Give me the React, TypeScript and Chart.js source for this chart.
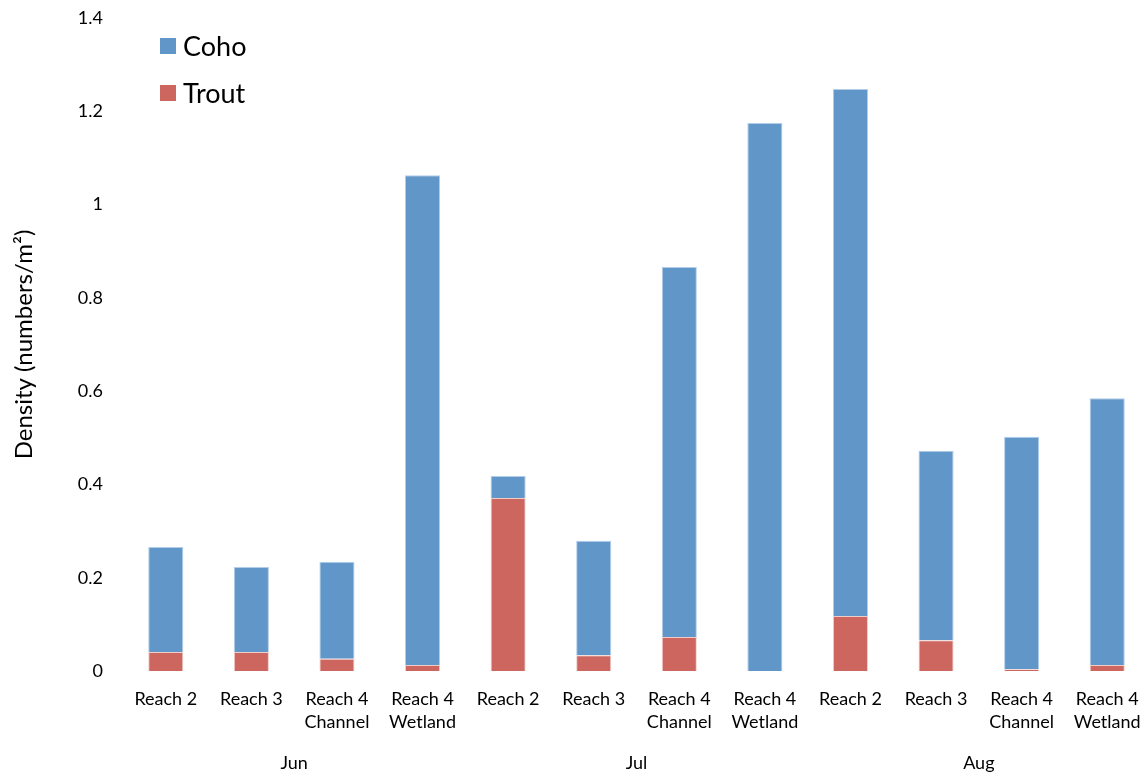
import React, { useEffect, useRef } from 'react';
import { Chart, registerables } from 'chart.js';

Chart.register(...registerables);

const categories: string[][] = [
  ['Reach 2'], ['Reach 3'], ['Reach 4', 'Channel'], ['Reach 4', 'Wetland'],
  ['Reach 2'], ['Reach 3'], ['Reach 4', 'Channel'], ['Reach 4', 'Wetland'],
  ['Reach 2'], ['Reach 3'], ['Reach 4', 'Channel'], ['Reach 4', 'Wetland'],
];
const months = ['Jun', 'Jul', 'Aug'];
const trout = [0.041, 0.041, 0.026, 0.013, 0.371, 0.034, 0.073, 0.0, 0.118, 0.066, 0.004, 0.013];
const coho = [0.225, 0.182, 0.208, 1.05, 0.047, 0.245, 0.793, 1.175, 1.13, 0.406, 0.498, 0.572];
const yMin = 0;
const yMax = 1.4;
const yStep = 0.2;

const FONT = 'Lato, "Open Sans", "DejaVu Sans", sans-serif';
const BLUE = '#6096C8';
const RED = '#CD665F';

export default function App() {
  const ref = useRef<HTMLCanvasElement | null>(null);

  useEffect(() => {
    document.documentElement.style.overflow = 'hidden';
    document.body.style.overflow = 'hidden';
    document.body.style.margin = '0';
    if (!ref.current) return;

    const groupPlugin = {
      id: 'groupLabels',
      afterDraw(chart: any) {
        const ctx = chart.ctx;
        const xs = chart.scales.x;
        ctx.save();
        ctx.font = `18px ${FONT}`;
        ctx.fillStyle = '#000';
        ctx.textAlign = 'center';
        ctx.textBaseline = 'middle';
        months.forEach((m, i) => {
          const a = xs.getPixelForValue(i * 4);
          const b = xs.getPixelForValue(i * 4 + 3);
          ctx.fillText(m, (a + b) / 2, 763);
        });
        ctx.restore();
      },
    };

    const legendPlugin = {
      id: 'customLegend',
      afterDraw(chart: any) {
        const ctx = chart.ctx;
        const items = [chart.data.datasets[1], chart.data.datasets[0]];
        ctx.save();
        ctx.font = `27px ${FONT}`;
        ctx.textBaseline = 'middle';
        ctx.textAlign = 'left';
        items.forEach((ds: any, i: number) => {
          const cy = 46 + i * 47;
          ctx.fillStyle = ds.backgroundColor;
          ctx.fillRect(160, cy - 8, 16, 16);
          ctx.fillStyle = '#000';
          ctx.fillText(ds.label, 183, cy + 1);
        });
        ctx.restore();
      },
    };

    const chart = new Chart(ref.current, {
      type: 'bar',
      data: {
        labels: categories,
        datasets: [
          {
            label: 'Trout',
            data: trout,
            backgroundColor: RED,
            borderColor: 'rgba(240,200,196,0.9)',
            borderWidth: 1,
            barPercentage: 0.41,
            categoryPercentage: 1,
          },
          {
            label: 'Coho',
            data: coho,
            backgroundColor: BLUE,
            borderColor: 'rgba(170,200,230,0.9)',
            borderWidth: 1,
            barPercentage: 0.41,
            categoryPercentage: 1,
          },
        ],
      },
      options: {
        responsive: false,
        animation: false,
        layout: { padding: { top: 18, right: 0, bottom: 0, left: 0 } },
        plugins: {
          legend: { display: false },
          tooltip: { enabled: false },
        },
        scales: {
          x: {
            stacked: true,
            grid: { display: false },
            border: { display: false },
            ticks: {
              color: '#000',
              font: { family: FONT, size: 18, lineHeight: 1.3 },
              padding: 8,
              maxRotation: 0,
              autoSkip: false,
            },
            afterFit: (s: any) => { s.height = 107; s.paddingLeft = 0; s.paddingRight = 0; },
          },
          y: {
            stacked: true,
            min: yMin,
            max: yMax,
            grid: { display: false },
            border: { display: false },
            ticks: {
              stepSize: yStep,
              color: '#000',
              font: { family: FONT, size: 18 },
              padding: 12,
              callback: (v: any) => String(Number(Number(v).toFixed(1))),
            },
            title: {
              display: true,
              text: 'Density (numbers/m²)',
              color: '#000',
              font: { family: FONT, size: 24 },
              padding: { top: 10, bottom: 0 },
            },
            afterFit: (s: any) => { s.width = 123; s.paddingTop = 0; s.paddingBottom = 0; },
          },
        },
      },
      plugins: [groupPlugin, legendPlugin],
    });

    return () => chart.destroy();
  }, []);

  return (
    <div style={{ position: 'absolute', left: 0, top: 0 }}>
      <canvas ref={ref} width={1150} height={778} />
    </div>
  );
}
